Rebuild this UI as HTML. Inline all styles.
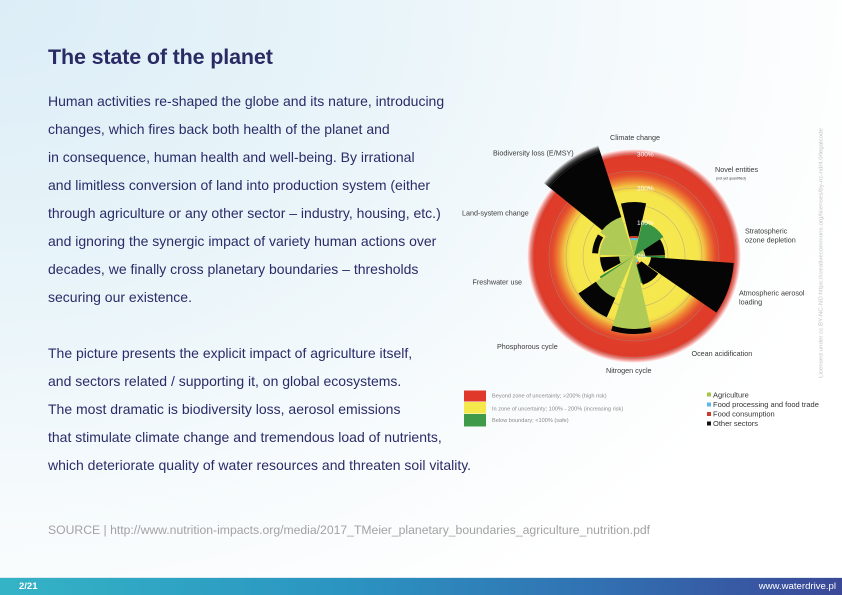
<!DOCTYPE html>
<html>
<head>
<meta charset="utf-8">
<style>
  html,body{margin:0;padding:0;}
  body{width:842px;height:595px;overflow:hidden;position:relative;
    font-family:"Liberation Sans", Arial, sans-serif;
    background:radial-gradient(ellipse 900px 700px at 0 0, #dcedf7 0%, #e8f4f9 40%, #f5fafc 70%, #ffffff 100%);}
  .title{position:absolute;left:48px;top:46.8px;font-size:21.5px;line-height:21.5px;font-weight:bold;color:#2a2a64;letter-spacing:-0.15px;white-space:nowrap;}
  .body{position:absolute;left:48px;top:87.2px;font-size:14px;line-height:28px;color:#2b2b68;white-space:nowrap;}
  .src{position:absolute;left:48px;top:523.7px;font-size:12.2px;line-height:12.2px;color:#a2a2a2;white-space:nowrap;}
  .footer{position:absolute;left:0;top:578px;width:842px;height:17px;
    background:linear-gradient(90deg,#34b3c6 0%,#2b95c1 40%,#3172b3 70%,#3b4898 100%);}
  .fline{position:absolute;left:0;top:577px;width:842px;height:1px;background:#dbe9f1;}
  .pg{position:absolute;left:19px;top:0;line-height:17px;font-size:9.5px;font-weight:bold;color:#fff;}
  .url{position:absolute;right:6px;top:0;line-height:17px;font-size:9.6px;color:#fff;}
  svg{position:absolute;left:0;top:0;}
</style>
</head>
<body>
<div class="title">The state of the planet</div>
<div class="body">Human activities re-shaped the globe and its nature, introducing<br>changes, which fires back both health of the planet and<br>in consequence, human health and well-being. By irrational<br>and limitless conversion of land into production system (either<br>through agriculture or any other sector – industry, housing, etc.)<br>and ignoring the synergic impact of variety human actions over<br>decades, we finally cross planetary boundaries – thresholds<br>securing our existence.<br><br>The picture presents the explicit impact of agriculture itself,<br>and sectors related / supporting it, on global ecosystems.<br>The most dramatic is biodiversity loss, aerosol emissions<br>that stimulate climate change and tremendous load of nutrients,<br>which deteriorate quality of water resources and threaten soil vitality.</div>
<div class="src">SOURCE | http://www.nutrition-impacts.org/media/2017_TMeier_planetary_boundaries_agriculture_nutrition.pdf</div>

<svg width="842" height="595" viewBox="0 0 842 595" font-family="'Liberation Sans', Arial, sans-serif">
  <defs>
    <radialGradient id="bg" gradientUnits="userSpaceOnUse" cx="634" cy="256" r="107">
      <stop offset="0" stop-color="#f6ea52"/>
      <stop offset="0.598" stop-color="#f5e64c"/>
      <stop offset="0.654" stop-color="#f3c443"/>
      <stop offset="0.701" stop-color="#ee8735"/>
      <stop offset="0.757" stop-color="#e4502d"/>
      <stop offset="0.804" stop-color="#e03d2b"/>
      <stop offset="0.935" stop-color="#df3b2a"/>
      <stop offset="0.958" stop-color="#e86a62"/>
      <stop offset="0.981" stop-color="#f6b8b5"/>
      <stop offset="1" stop-color="#ffffff"/>
    </radialGradient>
    <radialGradient id="fade" gradientUnits="userSpaceOnUse" cx="634" cy="256" r="116">
      <stop offset="0.94" stop-color="#000"/>
      <stop offset="0.975" stop-color="#555"/>
      <stop offset="1" stop-color="#dcdcdc"/>
    </radialGradient>
  </defs>

  <!-- background disc -->
  <circle cx="634" cy="256" r="107" fill="url(#bg)"/>
  <g fill="none" stroke="#9a948c" stroke-width="0.6" opacity="0.6">
    <circle cx="634" cy="256" r="34"/>
    <circle cx="634" cy="256" r="51"/>
    <circle cx="634" cy="256" r="68"/>
    <circle cx="634" cy="256" r="85"/>
    <circle cx="634" cy="256" r="102"/>
  </g>

  <g fill="none">
    <!-- Biodiversity -->
    <circle cx="634" cy="256" r="20.5" stroke="#afcb55" stroke-width="41" stroke-dasharray="13.238 1000" transform="rotate(215 634 256)"/>
    <circle cx="634" cy="256" r="75" stroke="#050505" stroke-width="68" stroke-dasharray="43.197 1000" transform="rotate(219 634 256)"/>
    <circle cx="634" cy="256" r="112.5" stroke="url(#fade)" stroke-width="7" stroke-dasharray="64.795 1000" transform="rotate(219 634 256)"/>
    <!-- Land-system -->
    <circle cx="634" cy="256" r="17" stroke="#afcb55" stroke-width="34" stroke-dasharray="9.791 1000" transform="rotate(182 634 256)"/>
    <circle cx="634" cy="256" r="39" stroke="#050505" stroke-width="6" stroke-dasharray="18.378 1000" transform="rotate(184 634 256)"/>
    <!-- Freshwater -->
    <circle cx="634" cy="256" r="7.5" stroke="#afcb55" stroke-width="15" stroke-dasharray="3.927 1000" transform="rotate(150 634 256)"/>
    <circle cx="634" cy="256" r="24.5" stroke="#050505" stroke-width="19" stroke-dasharray="11.118 1000" transform="rotate(152 634 256)"/>
    <!-- Phosphorus -->
    <circle cx="634" cy="256" r="23" stroke="#afcb55" stroke-width="46" stroke-dasharray="12.846 1000" transform="rotate(114 634 256)"/>
    <circle cx="634" cy="256" r="56.5" stroke="#050505" stroke-width="21" stroke-dasharray="31.556 1000" transform="rotate(114 634 256)"/>
    <circle cx="634" cy="256" r="20" stroke="#2f8f3e" stroke-width="40" stroke-dasharray="1.047 1000" transform="rotate(146 634 256)"/>
    <!-- Nitrogen -->
    <circle cx="634" cy="256" r="36.5" stroke="#afcb55" stroke-width="73" stroke-dasharray="19.111 1000" transform="rotate(77 634 256)"/>
    <circle cx="634" cy="256" r="75.5" stroke="#050505" stroke-width="5" stroke-dasharray="39.532 1000" transform="rotate(77 634 256)"/>
    <circle cx="634" cy="256" r="14" stroke="#2f8f3e" stroke-width="28" stroke-dasharray="0.733 1000" transform="rotate(73 634 256)"/>
    <!-- Ocean -->
    <circle cx="634" cy="256" r="19.5" stroke="#050505" stroke-width="21" stroke-dasharray="12.593 1000" transform="rotate(36 634 256)"/>
    <circle cx="634" cy="256" r="2.5" stroke="#afcb55" stroke-width="5" stroke-dasharray="1.614 1000" transform="rotate(36 634 256)"/>
    <circle cx="634" cy="256" r="6" stroke="#5bc0e8" stroke-width="2" stroke-dasharray="1.885 1000" transform="rotate(50 634 256)"/>
    <circle cx="634" cy="256" r="8" stroke="#d33a2a" stroke-width="2" stroke-dasharray="2.513 1000" transform="rotate(50 634 256)"/>
    <!-- Aerosol -->
    <circle cx="634" cy="256" r="58.5" stroke="#050505" stroke-width="83" stroke-dasharray="31.141 1000" transform="rotate(4 634 256)"/>
    <circle cx="634" cy="256" r="15.5" stroke="#2f8f3e" stroke-width="31" stroke-dasharray="1.082 1000" transform="rotate(0 634 256)"/>
    <!-- Ozone -->
    <circle cx="634" cy="256" r="21" stroke="#050505" stroke-width="20" stroke-dasharray="11.729 1000" transform="rotate(-33 634 256)"/>
    <circle cx="634" cy="256" r="5.5" stroke="#afcb55" stroke-width="11" stroke-dasharray="3.072 1000" transform="rotate(-33 634 256)"/>
    <!-- Dark green (novel) -->
    <circle cx="634" cy="256" r="17.5" stroke="#3a9445" stroke-width="35" stroke-dasharray="13.134 1000" transform="rotate(-76 634 256)"/>
    <!-- Climate -->
    <circle cx="634" cy="256" r="8" stroke="#9fc450" stroke-width="16" stroke-dasharray="3.770 1000" transform="rotate(256 634 256)"/>
    <circle cx="634" cy="256" r="17" stroke="#5bc0e8" stroke-width="2" stroke-dasharray="8.011 1000" transform="rotate(256 634 256)"/>
    <circle cx="634" cy="256" r="19" stroke="#d33a2a" stroke-width="2" stroke-dasharray="8.954 1000" transform="rotate(256 634 256)"/>
    <circle cx="634" cy="256" r="37" stroke="#050505" stroke-width="34" stroke-dasharray="17.436 1000" transform="rotate(256 634 256)"/>
  </g>

  <!-- scale labels -->
  <g font-size="6.5" fill="#ffffff">
    <text x="637" y="156.5">300%</text>
    <text x="637" y="190.5">200%</text>
    <text x="637" y="225">100%</text>
    <text x="637" y="258.5">0%</text>
  </g>

  <!-- boundary labels -->
  <g font-size="7.2" fill="#3a3a3a">
    <text x="610" y="140">Climate change</text>
    <text x="493" y="155.5">Biodiversity loss (E/MSY)</text>
    <text x="715" y="172">Novel entities</text>
    <text x="716" y="179.5" font-size="3.6">(not yet quantified)</text>
    <text x="745" y="233.5">Stratospheric</text>
    <text x="745" y="242.5">ozone depletion</text>
    <text x="739" y="295.5">Atmospheric aerosol</text>
    <text x="739" y="304.5">loading</text>
    <text x="691.5" y="356">Ocean acidification</text>
    <text x="606" y="373">Nitrogen cycle</text>
    <text x="497" y="349">Phosphorous cycle</text>
    <text x="472.5" y="284.5">Freshwater use</text>
    <text x="462" y="215.5">Land-system change</text>
  </g>

  <!-- legend left -->
  <rect x="464" y="390.5" width="22" height="11" fill="#e0392b"/>
  <rect x="464" y="402" width="22" height="11.5" fill="#f4e84c"/>
  <rect x="464" y="414" width="22" height="12.5" fill="#3f9a4a"/>
  <g font-size="5.6" fill="#8a8a8a">
    <text x="492" y="397.5">Beyond zone of uncertainty; &gt;200% (high risk)</text>
    <text x="492" y="410.5">In zone of uncertainty; 100% - 200% (increasing risk)</text>
    <text x="492" y="422">Below boundary; &lt;100% (safe)</text>
  </g>

  <!-- legend right -->
  <rect x="707" y="392.5" width="4" height="4" fill="#a6c64a"/>
  <rect x="707" y="402.5" width="4" height="4" fill="#5bb8e8"/>
  <rect x="707" y="412" width="4" height="4" fill="#d03a2a"/>
  <rect x="707" y="421.5" width="4" height="4" fill="#111111"/>
  <g font-size="7.5" fill="#333333">
    <text x="713" y="397.5">Agriculture</text>
    <text x="713" y="407">Food processing and food trade</text>
    <text x="713" y="416.5">Food consumption</text>
    <text x="713" y="426">Other sectors</text>
  </g>

  <!-- license vertical -->
  <text transform="translate(822.5 253) rotate(-90)" text-anchor="middle" font-size="5.2" fill="#c2c2c2" textLength="250" lengthAdjust="spacingAndGlyphs">Licensed under cc BY-NC-ND https://creativecommons.org/licenses/by-nc-nd/4.0/legalcode</text>
</svg>

<div class="fline"></div>
<div class="footer">
  <div class="pg">2/21</div>
  <div class="url">www.waterdrive.pl</div>
</div>
</body>
</html>
